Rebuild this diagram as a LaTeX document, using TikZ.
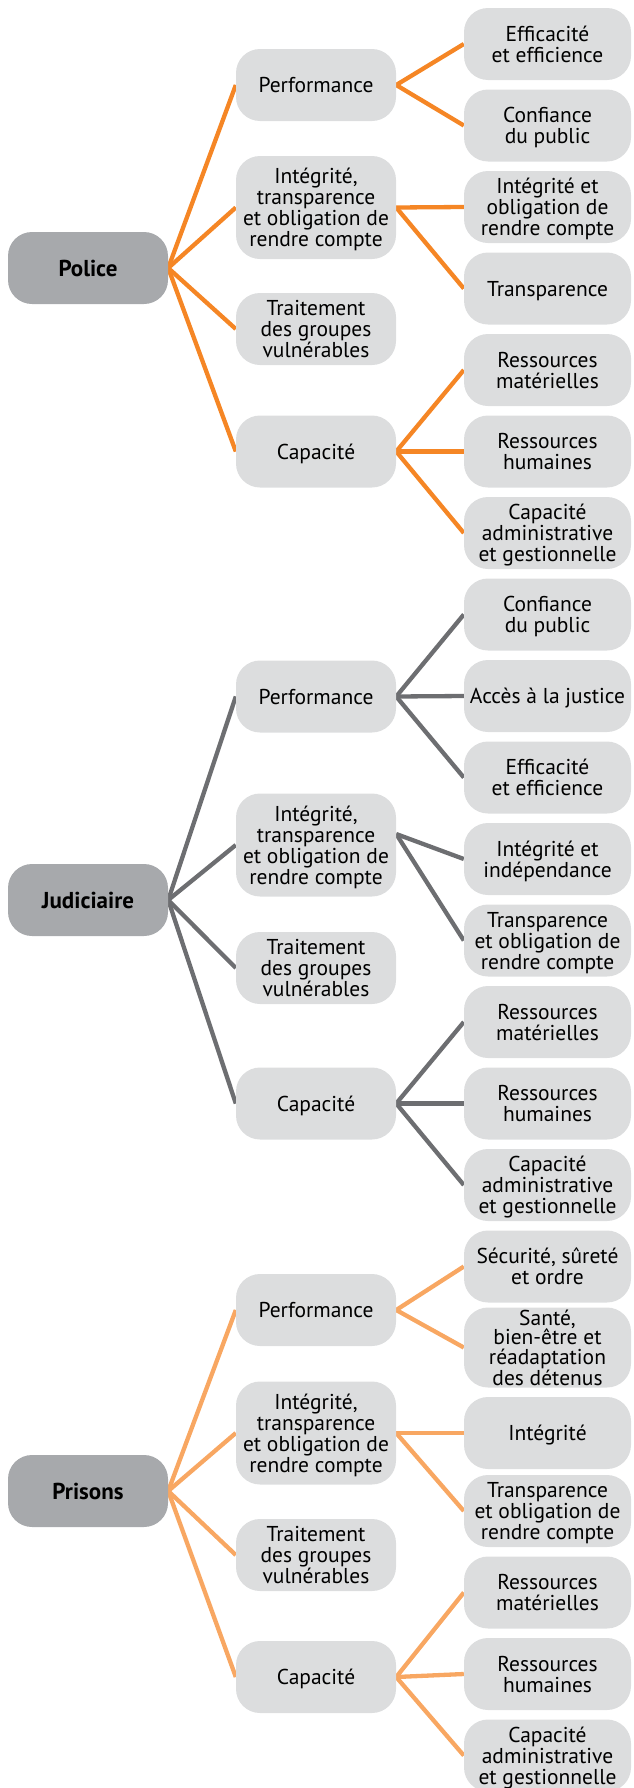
\documentclass[tikz,border=0pt]{standalone}
\usepackage{fontspec}
\setmainfont{PT Sans}
\usetikzlibrary{backgrounds,calc}
\definecolor{rootgray}{HTML}{A7A9AC}
\definecolor{boxgray}{HTML}{DCDDDE}
\definecolor{polorange}{HTML}{F58625}
\definecolor{judgray}{HTML}{6D6E71}
\definecolor{prisorange}{HTML}{F8A762}
\begin{document}
\begin{tikzpicture}[x=1pt,y=-1pt,
  basebox/.style={rounded corners=24pt, inner sep=0pt, align=center,
    text depth=0pt, minimum height=72pt, font=\fontsize{21.5}{21}\selectfont},
  rootbox/.style={basebox, fill=rootgray, minimum width=160pt,
    font=\bfseries\fontsize{23}{23}\selectfont},
  midbox/.style={basebox, fill=boxgray, minimum width=160pt},
  leafbox/.style={basebox, fill=boxgray, minimum width=167pt},
  tallbox/.style={minimum height=103pt},
  link/.style={line width=4.3pt}
]
\useasboundingbox (0,0) rectangle (633,1788);
\clip (0,0) rectangle (633,1788);

% ---------------- Police ----------------
\node[rootbox] (pol) at (88,268) {Police};
\node[midbox] (polPerf) at (316,85) {Performance};
\node[midbox,tallbox] (polInt) at (316,207.5) {Intégrité,\\transparence\\et obligation de\\rendre compte};
\node[midbox] (polTrait) at (316,329) {Traitement\\des groupes\\vulnérables};
\node[midbox] (polCap) at (316,451.5) {Capacité};
\node[leafbox] (polA) at (547.5,44) {Efficacité\\et efficience};
\node[leafbox] (polB) at (547.5,125.5) {Confiance\\du public};
\node[leafbox] (polC) at (547.5,207) {Intégrité et\\obligation de\\rendre compte};
\node[leafbox] (polD) at (547.5,288.5) {Transparence};
\node[leafbox] (polE) at (547.5,370) {Ressources\\matérielles};
\node[leafbox] (polF) at (547.5,451.5) {Ressources\\humaines};
\node[leafbox] (polG) at (547.5,533) {Capacité\\administrative\\et gestionnelle};

% ---------------- Judiciaire ----------------
\node[rootbox] (jud) at (88,900) {Judiciaire};
\node[midbox] (judPerf) at (316,696.5) {Performance};
\node[midbox,tallbox] (judInt) at (316,845) {Intégrité,\\transparence\\et obligation de\\rendre compte};
\node[midbox] (judTrait) at (316,968) {Traitement\\des groupes\\vulnérables};
\node[midbox] (judCap) at (316,1103.5) {Capacité};
\node[leafbox] (judA) at (547.5,614.5) {Confiance\\du public};
\node[leafbox] (judB) at (547.5,696) {Accès à la justice};
\node[leafbox] (judC) at (547.5,777.5) {Efficacité\\et efficience};
\node[leafbox] (judD) at (547.5,859) {Intégrité et\\indépendance};
\node[leafbox] (judE) at (547.5,940.5) {Transparence\\et obligation de\\rendre compte};
\node[leafbox] (judF) at (547.5,1022) {Ressources\\matérielles};
\node[leafbox] (judG) at (547.5,1103.5) {Ressources\\humaines};
\node[leafbox] (judH) at (547.5,1185) {Capacité\\administrative\\et gestionnelle};
\coordinate (judIntOut) at ($(judInt.east)+(0,-11)$);

% ---------------- Prisons ----------------
\node[rootbox] (pri) at (88,1491) {Prisons};
\node[midbox] (priPerf) at (316,1310) {Performance};
\node[midbox,tallbox] (priInt) at (316,1433) {Intégrité,\\transparence\\et obligation de\\rendre compte};
\node[midbox] (priTrait) at (316,1555) {Traitement\\des groupes\\vulnérables};
\node[midbox] (priCap) at (316,1677) {Capacité};
\node[leafbox] (priA) at (547.5,1266.5) {Sécurité, sûreté\\et ordre};
\node[leafbox,minimum height=80pt,font=\fontsize{21.5}{19.5}\selectfont] (priB) at (547.5,1347.5) {Santé,\\bien-être et\\réadaptation\\des détenus};
\node[leafbox] (priC) at (547.5,1433) {Intégrité};
\node[leafbox] (priD) at (547.5,1511) {Transparence\\et obligation de\\rendre compte};
\node[leafbox] (priE) at (547.5,1592.5) {Ressources\\matérielles};
\node[leafbox] (priF) at (547.5,1674) {Ressources\\humaines};
\node[leafbox] (priG) at (547.5,1755.5) {Capacité\\administrative\\et gestionnelle};

% ---------------- Connectors ----------------
\begin{pgfonlayer}{background}
\begin{scope}[link, polorange]
  \foreach \m in {polPerf,polInt,polTrait,polCap} \draw (pol.east) -- (\m.west);
  \foreach \l in {polA,polB} \draw (polPerf.east) -- (\l.west);
  \foreach \l in {polC,polD} \draw (polInt.east) -- (\l.west);
  \foreach \l in {polE,polF,polG} \draw (polCap.east) -- (\l.west);
\end{scope}
\begin{scope}[link, judgray]
  \foreach \m in {judPerf,judInt,judTrait,judCap} \draw (jud.east) -- (\m.west);
  \foreach \l in {judA,judB,judC} \draw (judPerf.east) -- (\l.west);
  \foreach \l in {judD,judE} \draw (judIntOut) -- (\l.west);
  \foreach \l in {judF,judG,judH} \draw (judCap.east) -- (\l.west);
\end{scope}
\begin{scope}[link, prisorange]
  \foreach \m in {priPerf,priInt,priTrait,priCap} \draw (pri.east) -- (\m.west);
  \foreach \l in {priA,priB} \draw (priPerf.east) -- (\l.west);
  \foreach \l in {priC,priD} \draw (priInt.east) -- (\l.west);
  \foreach \l in {priE,priF,priG} \draw (priCap.east) -- (\l.west);
\end{scope}
\end{pgfonlayer}
\end{tikzpicture}
\end{document}
